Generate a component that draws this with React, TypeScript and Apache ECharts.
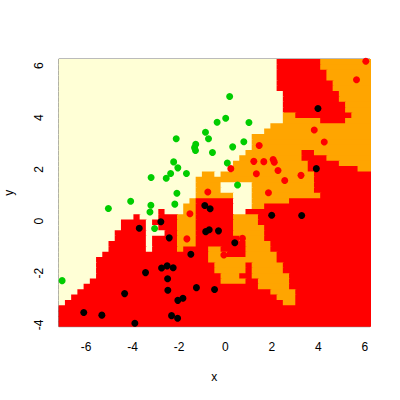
import React, { useEffect, useRef } from "react";
import * as echarts from "echarts";

// Extents of the classification grid (data units)
const X_MIN = -7.177;
const X_MAX = 6.22;
const Y_MIN = -4.066;
const Y_MAX = 6.258;
const N_COLS = 50;

// Predicted class per grid row (top to bottom), run-length encoded: Y=yellow, O=orange, R=red
const regionRows = [
  "Y35 R7 O8", "Y35 R7 O8", "Y35 R8 O7", "Y35 R8 O7", "Y35 R9 O6",
  "Y35 R9 O6", "Y36 R9 O5", "Y36 R9 O5", "Y36 R10 O4", "Y36 R10 O4",
  "Y36 O2 R9 O3", "Y36 O6 R4 O4", "Y34 O16", "Y33 O17", "Y31 O19",
  "Y31 O19", "Y31 O19", "Y30 O9 R2 O9", "Y29 O10 R4 O7", "Y28 O12 R5 O5",
  "Y28 O12 R8 O2", "Y23 O2 Y1 O15 R9", "Y22 O19 R9", "Y22 O4 Y5 O10 R9", "Y22 O4 Y5 O10 R9",
  "Y22 O6 Y3 O11 R8", "Y21 O1 R6 Y3 O6 R13", "Y20 O2 R6 Y3 O2 R17", "Y16 R1 Y3 O2 R6 Y2 R20", "Y12 R1 Y3 R3 O3 R6 O4 R18",
  "Y10 R4 Y1 R4 O3 R6 O4 R18", "Y10 R4 Y2 R3 O3 R6 O5 R17", "Y9 R5 Y3 R2 O3 R6 O5 R17", "Y9 R5 Y1 R4 O3 R7 O4 R17", "Y8 R6 Y1 R4 O3 R8 O4 R16",
  "Y8 R6 Y1 R4 O1 R4 O2 R4 O4 R16", "Y7 R17 O3 R3 O5 R15", "Y6 R18 O11 R15", "Y6 R19 O5 R1 O5 R14", "Y6 R19 O5 R1 O5 R14",
  "Y6 R20 O3 R2 O6 R13", "Y5 R21 O4 R2 O5 R13", "Y4 R28 O5 R13", "Y3 R31 O4 R12", "Y2 R33 O3 R12",
  "Y1 R35 O2 R12", "R50", "R50", "R50", "R50",
];

const classKeys = ["Y", "O", "R"];
const classColors = ["#FFFFD6", "#FFA500", "#FF0000"];

const greenPoints = [
  [0.18, 4.81], [0.01, 3.97], [-0.36, 3.82], [1.01, 3.81], [-0.86, 3.43],
  [-0.73, 3.18], [-2.12, 3.18], [0.79, 3.07], [-1.28, 2.97], [-1.33, 2.84],
  [-1.29, 2.73], [0.31, 2.87], [-0.56, 2.65], [0.08, 2.25], [-2.23, 2.29],
  [-2.05, 2.06], [-2.36, 1.84], [-1.68, 1.84], [-3.2, 1.69], [-2.55, 1.66],
  [0.52, 1.4], [-2.09, 1.08], [-2.18, 0.66], [-4.08, 0.77], [-5.04, 0.49],
  [-3.21, 0.62], [-3.25, 0.36], [-3.05, -0.28], [-7.03, -2.29],
];

const redPoints = [
  [6.04, 6.17], [5.64, 5.46], [3.82, 3.52], [4.25, 3.06], [1.45, 2.92],
  [1.22, 2.31], [1.65, 2.3], [2.05, 2.38], [2.1, 2.28], [1.33, 1.83],
  [2.26, 1.96], [0.23, 2.03], [3.25, 1.77], [2.55, 1.57], [1.85, 1.1],
  [-0.76, 1.13], [-1.53, 0.29], [-1.66, -0.68], [0.73, -0.66], [-0.07, -1.3],
];

const blackPoints = [
  [3.98, 4.35], [3.91, 2.03], [1.99, 0.23], [3.28, 0.22], [-0.89, 0.61],
  [-0.66, 0.48], [-2.78, -0.02], [-0.85, -0.4], [-0.7, -0.33], [-0.3, -0.37],
  [0.4, -0.83], [-2.42, -0.64], [-3.71, -0.27], [-1.49, -1.27], [-2.75, -1.8],
  [-2.51, -1.72], [-2.25, -1.79], [-2.49, -2.22], [-3.44, -1.98], [-2.48, -2.66],
  [-1.25, -2.56], [-0.47, -2.63], [-4.34, -2.79], [-2.05, -3.05], [-1.83, -2.97],
  [-2.32, -3.64], [-2.06, -3.74], [-6.1, -3.52], [-5.32, -3.62], [-3.9, -3.93],
];

const xTicks = [-6, -4, -2, 0, 2, 4, 6];
const yTicks = [-4, -2, 0, 2, 4, 6];

function buildRegionData() {
  const dx = (X_MAX - X_MIN) / N_COLS;
  const dy = (Y_MAX - Y_MIN) / regionRows.length;
  const out: number[][] = [];
  regionRows.forEach((row, j) => {
    let col = 0;
    row.split(" ").forEach((tok) => {
      const k = classKeys.indexOf(tok[0]);
      const n = parseInt(tok.slice(1), 10);
      const x0 = X_MIN + col * dx;
      const x1 = X_MIN + (col + n) * dx;
      const yTop = Y_MAX - j * dy;
      const yBot = Y_MAX - (j + 1) * dy;
      out.push([x0, yTop, x1, yBot, k]);
      col += n;
    });
  });
  return out;
}

const FONT = "'Liberation Sans', Arial, Helvetica, sans-serif";

export default function App() {
  const ref = useRef<HTMLDivElement>(null);
  useEffect(() => {
    if (!ref.current) return;
    const chart = echarts.init(ref.current, undefined, { renderer: "svg" });
    const regionData = buildRegionData();
    chart.setOption({
      animation: false,
      backgroundColor: "#ffffff",
      textStyle: { fontFamily: FONT },
      grid: {
        left: 58.7,
        top: 59,
        right: 30,
        bottom: 73.3,
        containLabel: false,
        outerBoundsMode: "none",
        show: true,
        borderColor: "#777",
        borderWidth: 1,
        backgroundColor: "transparent",
      },
      xAxis: {
        type: "value",
        min: X_MIN,
        max: X_MAX,
        name: "x",
        nameLocation: "middle",
        nameGap: 44,
        nameTextStyle: { fontSize: 12, color: "#000", fontFamily: FONT },
        axisLine: { show: false },
        axisTick: { show: true, length: 6, lineStyle: { color: "#444" }, customValues: xTicks },
        axisLabel: { fontSize: 12, color: "#000", margin: 14, fontFamily: FONT, customValues: xTicks },
        splitLine: { show: false },
      },
      yAxis: {
        type: "value",
        min: Y_MIN,
        max: Y_MAX,
        name: "y",
        nameLocation: "middle",
        nameGap: 44,
        nameRotate: 90,
        nameTextStyle: { fontSize: 12, color: "#000", fontFamily: FONT },
        axisLine: { show: false },
        axisTick: { show: true, length: 6, lineStyle: { color: "#444" }, customValues: yTicks },
        axisLabel: { fontSize: 12, color: "#000", margin: 14, rotate: 90, fontFamily: FONT, customValues: yTicks },
        splitLine: { show: false },
      },
      series: [
        {
          type: "custom",
          clip: true,
          silent: true,
          encode: { x: [0, 2], y: [1, 3] },
          data: regionData,
          renderItem: (params: any, api: any) => {
            const p0 = api.coord([api.value(0), api.value(1)]);
            const p1 = api.coord([api.value(2), api.value(3)]);
            return {
              type: "rect",
              shape: { x: p0[0], y: p0[1], width: p1[0] - p0[0] + 1, height: p1[1] - p0[1] + 1 },
              style: { fill: classColors[api.value(4)] },
            };
          },
          z: 1,
        },
        { type: "scatter", data: greenPoints, symbolSize: 7, itemStyle: { color: "#00CD00", opacity: 1 }, z: 3 },
        { type: "scatter", data: redPoints, symbolSize: 7, itemStyle: { color: "#FF0000", opacity: 1 }, z: 3 },
        { type: "scatter", data: blackPoints, symbolSize: 7, itemStyle: { color: "#000000", opacity: 1 }, z: 3 },
      ],
    });
    return () => chart.dispose();
  }, []);
  return (
    <div
      ref={ref}
      style={{ position: "fixed", left: 0, top: 0, width: 400, height: 400 }}
    />
  );
}
